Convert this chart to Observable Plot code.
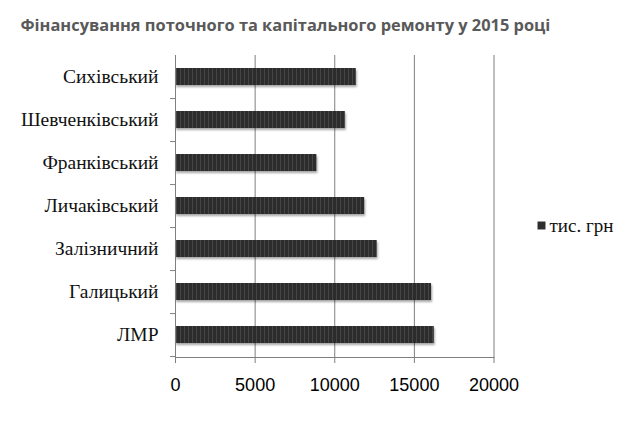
<!DOCTYPE html>
<html>
<head>
<meta charset="utf-8">
<script src="https://cdn.jsdelivr.net/npm/d3@7"></script>
<script src="https://cdn.jsdelivr.net/npm/@observablehq/plot@0.6"></script>
<style>
  html, body { margin: 0; padding: 0; background: #fff; }
  #chart svg { display: block; }
</style>
</head>
<body>
<div id="chart"></div>
<script>
const title = "Фінансування поточного та капітального ремонту у 2015 році";
const districts = ["Сихівський", "Шевченківський", "Франківський", "Личаківський", "Залізничний", "Галицький", "ЛМР"];
const values = [11350, 10670, 8880, 11880, 12670, 16080, 16250];
const xTicks = [0, 5000, 10000, 15000, 20000];
const seriesName = "тис. грн";

const data = districts.map((d, i) => ({district: d, value: values[i]}));

const W = 633, H = 421, mTop = 55, mBottom = 64, mLeft = 175, mRight = 139.5;
const step = (H - mTop - mBottom) / districts.length;
const midY = mTop + (H - mTop - mBottom) / 2;

const chart = Plot.plot({
  width: W,
  height: H,
  marginTop: mTop,
  marginBottom: mBottom,
  marginLeft: mLeft,
  marginRight: mRight,
  style: {background: "#fff", overflow: "visible"},
  x: {domain: [0, 20000], label: null},
  y: {domain: districts, paddingInner: 0.6, paddingOuter: 0.3, label: null},
  marks: [
    Plot.gridX(xTicks.slice(1), {stroke: "#7f7f7f", strokeOpacity: 1, strokeWidth: 1}),
    Plot.barX(data, {x: "value", y: "district", fill: "url(#stripes)"}),
    Plot.frame({anchor: "bottom", stroke: "#7f7f7f"}),
    Plot.frame({anchor: "left", stroke: "#7f7f7f"}),
    Plot.axisX({ticks: xTicks, tickSize: 6, tickPadding: 15, stroke: "#7f7f7f", label: null,
      tickFormat: d => String(d), fontSize: 18, fontFamily: "Liberation Sans", fill: "#000"}),
    Plot.axisY({tickSize: 0, tickPadding: 17, fontSize: 19.5, fontFamily: "Liberation Serif", fill: "#111", label: null}),
    Plot.axisY({tickSize: 5, tickFormat: null, dy: step / 2, stroke: "#7f7f7f", label: null}),
    Plot.text([title], {frameAnchor: "top-left", dx: 20 - mLeft, dy: 30 - mTop, lineAnchor: "bottom",
      textAnchor: "start", fontSize: 16.4, fontWeight: "bold", fontFamily: "Open Sans", fill: "#595959"}),
    Plot.dot([seriesName], {frameAnchor: "right", dx: 541 - (W - mRight), dy: 225 - midY,
      symbol: "square", r: 4.5, fill: "#2e2e2e", stroke: null}),
    Plot.text([seriesName], {frameAnchor: "right", dx: 549 - (W - mRight), dy: 225 - midY,
      textAnchor: "start", fontSize: 19, fontFamily: "Liberation Serif", fill: "#111"})
  ]
});

// striped pattern for the bars
const ns = "http://www.w3.org/2000/svg";
const defs = document.createElementNS(ns, "defs");
const pat = document.createElementNS(ns, "pattern");
pat.setAttribute("id", "stripes");
pat.setAttribute("patternUnits", "userSpaceOnUse");
pat.setAttribute("width", "4");
pat.setAttribute("height", "4");
const r1 = document.createElementNS(ns, "rect");
r1.setAttribute("width", "4"); r1.setAttribute("height", "4"); r1.setAttribute("fill", "#2c2c2c");
const r2 = document.createElementNS(ns, "rect");
r2.setAttribute("width", "1"); r2.setAttribute("height", "4"); r2.setAttribute("fill", "#454545");
pat.appendChild(r1); pat.appendChild(r2);
defs.appendChild(pat);
chart.insertBefore(defs, chart.firstChild);
chart.querySelectorAll("g[fill='url(#stripes)']").forEach(el => {
  el.style.filter = "drop-shadow(1px 2px 1px rgba(0,0,0,0.35))";
});

document.getElementById("chart").appendChild(chart);
</script>
</body>
</html>
